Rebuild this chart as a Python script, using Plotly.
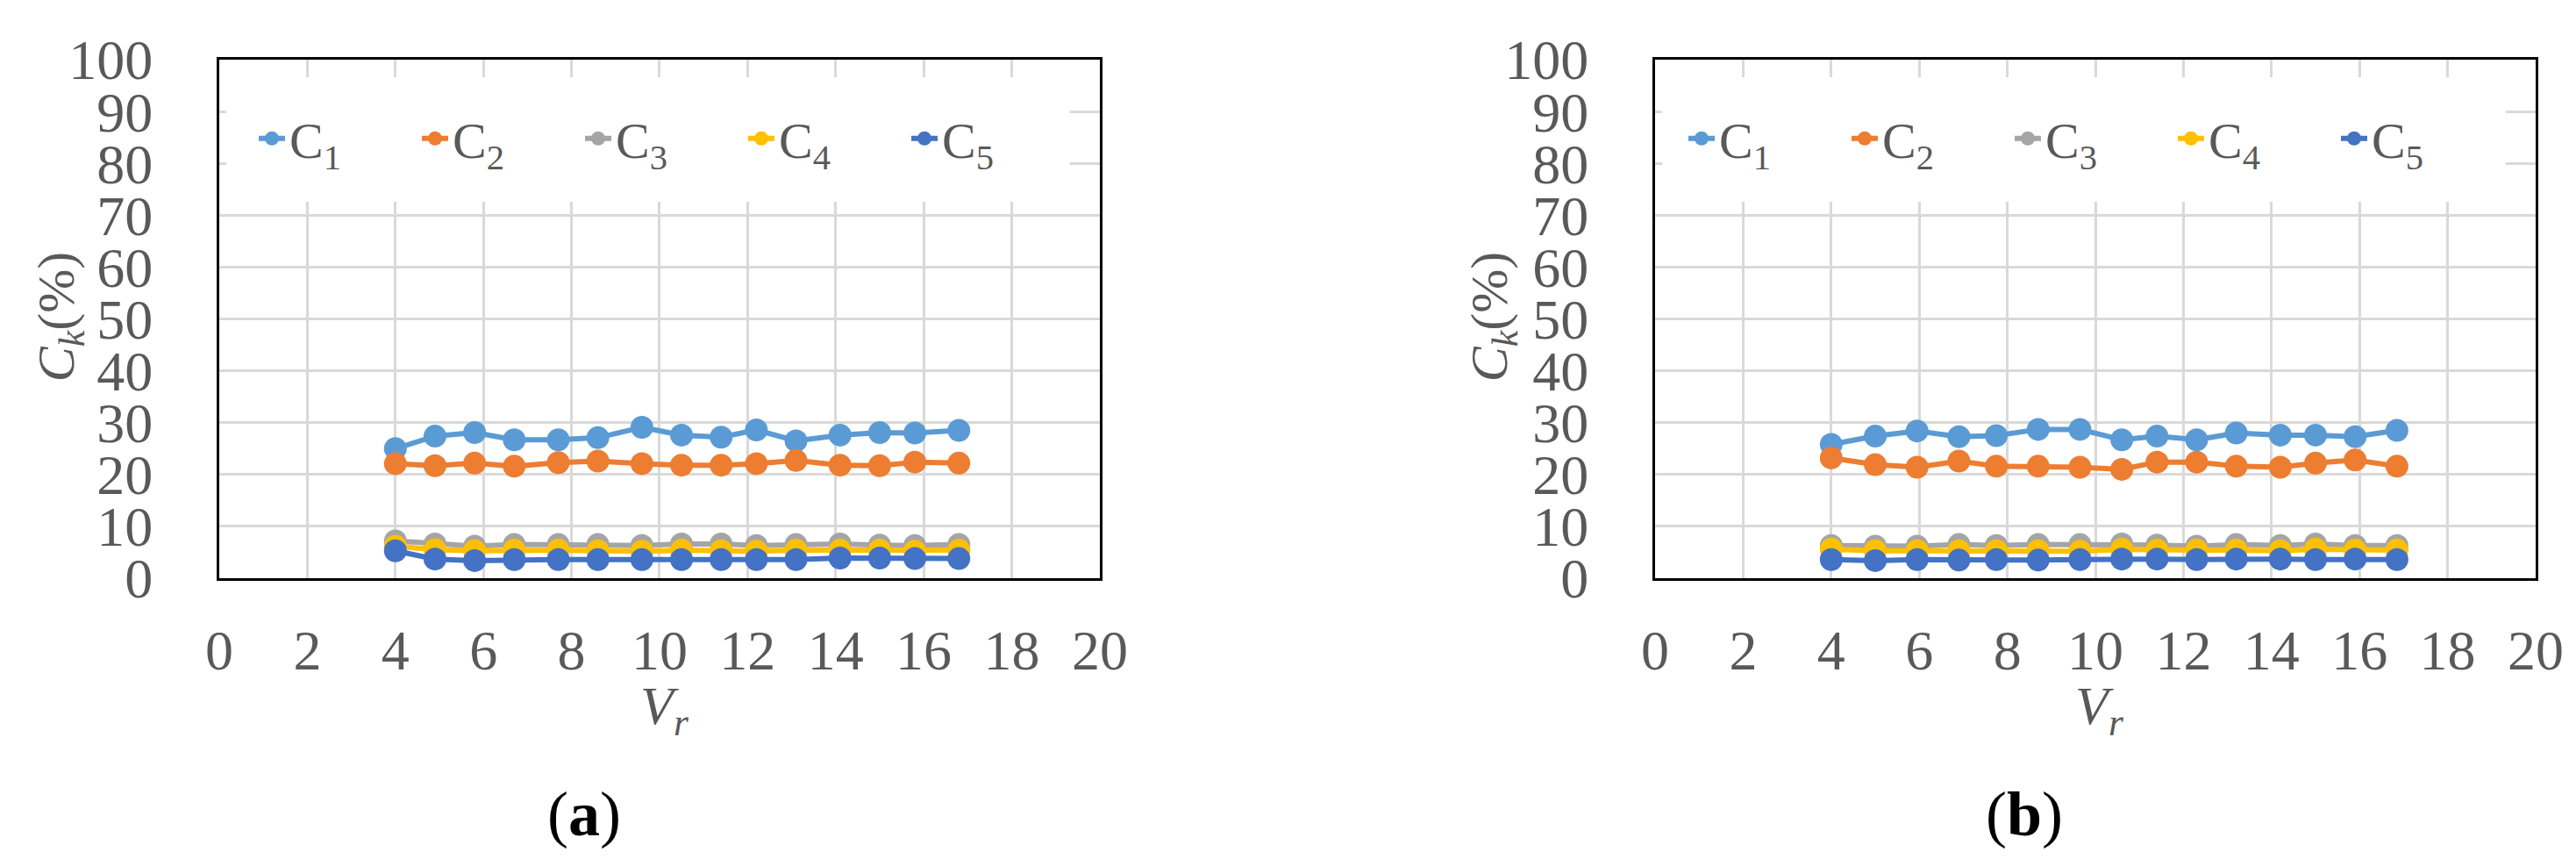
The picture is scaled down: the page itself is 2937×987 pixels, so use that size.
import plotly.graph_objects as go

# panel (a)
vr_a = [4.0, 4.9, 5.8, 6.7, 7.7, 8.6, 9.6, 10.5, 11.4, 12.2, 13.1, 14.1, 15.0, 15.8, 16.8]
c1_a = [25.0, 27.4, 28.1, 26.7, 26.7, 27.1, 29.1, 27.6, 27.2, 28.6, 26.5, 27.6, 28.1, 28.0, 28.5]
c2_a = [22.1, 21.7, 22.2, 21.6, 22.3, 22.6, 22.1, 21.8, 21.8, 22.1, 22.7, 21.8, 21.7, 22.4, 22.2]
c3_a = [7.2, 6.6, 6.2, 6.5, 6.5, 6.5, 6.3, 6.6, 6.6, 6.3, 6.5, 6.6, 6.4, 6.3, 6.5]
c4_a = [6.2, 5.5, 5.3, 5.4, 5.4, 5.3, 5.2, 5.4, 5.3, 5.2, 5.4, 5.4, 5.4, 5.2, 5.4]
c5_a = [5.3, 3.7, 3.4, 3.6, 3.6, 3.6, 3.6, 3.6, 3.6, 3.6, 3.6, 3.9, 3.9, 3.8, 3.8]

# panel (b)
vr_b = [4.0, 5.0, 5.95, 6.9, 7.75, 8.7, 9.65, 10.6, 11.4, 12.3, 13.2, 14.2, 15.0, 15.9, 16.85]
c1_b = [25.8, 27.4, 28.4, 27.3, 27.5, 28.7, 28.7, 26.7, 27.4, 26.7, 28.0, 27.6, 27.6, 27.3, 28.5]
c2_b = [23.2, 21.9, 21.4, 22.6, 21.6, 21.6, 21.4, 21.0, 22.4, 22.4, 21.6, 21.4, 22.2, 22.8, 21.6]
c3_b = [6.3, 6.2, 6.2, 6.5, 6.3, 6.5, 6.5, 6.6, 6.4, 6.2, 6.5, 6.3, 6.6, 6.3, 6.3]
c4_b = [5.6, 5.3, 5.3, 5.3, 5.3, 5.3, 5.2, 5.6, 5.4, 5.4, 5.4, 5.3, 5.6, 5.4, 5.4]
c5_b = [3.6, 3.4, 3.6, 3.5, 3.6, 3.5, 3.6, 3.7, 3.7, 3.6, 3.7, 3.7, 3.6, 3.7, 3.6]

names = ['C<sub>1</sub>', 'C<sub>2</sub>', 'C<sub>3</sub>', 'C<sub>4</sub>', 'C<sub>5</sub>']
colors = ['#5B9BD5', '#ED7D31', '#A5A5A5', '#FFC000', '#4472C4']

FONT = 'Liberation Serif'
GREY = '#595959'

fig = go.Figure()

panels = [
    (vr_a, [c1_a, c2_a, c3_a, c4_a, c5_a], 'x', 'y', 'legend'),
    (vr_b, [c1_b, c2_b, c3_b, c4_b, c5_b], 'x2', 'y2', 'legend2'),
]
for vr, series, xa, ya, leg in panels:
    for name, col, vals in zip(names, colors, series):
        fig.add_trace(go.Scatter(x=vr, y=vals, name=name, mode='lines+markers',
                                 xaxis=xa, yaxis=ya, legend=leg,
                                 line=dict(color=col, width=6),
                                 marker=dict(color=col, size=26)))

ydom = [0.3404, 0.9392]
xdoms = [[0.0824, 0.4242], [0.6398, 0.9816]]

axis_common = dict(showline=True, mirror=True, linecolor='black', linewidth=3,
                   showgrid=True, gridcolor='#D9D9D9', gridwidth=3,
                   zeroline=False, ticks='', automargin=False,
                   tickfont=dict(family=FONT, size=64, color=GREY))

fig.update_layout(
    width=2937, height=987, autosize=False,
    margin=dict(l=0, r=0, t=0, b=0, autoexpand=False),
    paper_bgcolor='white', plot_bgcolor='white',
    xaxis=dict(domain=xdoms[0], anchor='y', range=[0, 20], dtick=2, tick0=0,
               ticklabelstandoff=24, **axis_common),
    yaxis=dict(domain=ydom, anchor='x', range=[0, 100], dtick=10, tick0=0,
               ticklabelstandoff=60, **axis_common),
    xaxis2=dict(domain=xdoms[1], anchor='y2', range=[0, 20], dtick=2, tick0=0,
                ticklabelstandoff=24, **axis_common),
    yaxis2=dict(domain=ydom, anchor='x2', range=[0, 100], dtick=10, tick0=0,
                ticklabelstandoff=60, **axis_common),
)

leg_common = dict(orientation='h', bgcolor='rgba(0,0,0,0)', borderwidth=0,
                  font=dict(family=FONT, size=58, color=GREY),
                  entrywidth=141, entrywidthmode='pixels',
                  xanchor='left', yanchor='middle', y=0.848)
fig.update_layout(legend=dict(x=282 / 2937, **leg_common),
                  legend2=dict(x=1912 / 2937, **leg_common))

# white block behind the legend, hiding the gridlines as in the original
for xr, yr in [('x', 'y'), ('x2', 'y2')]:
    fig.add_shape(type='rect', xref=xr, yref=yr, x0=0.16, x1=19.32, y0=72.6, y1=96.6,
                  fillcolor='white', line_width=0, layer='between')

anns = []
for cx_title, cx_v, cx_lab, lab in [(60, 750, 658, 'a'), (1694, 2386, 2300, 'b')]:
    anns.append(dict(x=cx_title / 2937, y=0.642, xref='paper', yref='paper',
                     xanchor='center', yanchor='middle',
                     text='<i>C<sub>k</sub></i>(%)', textangle=-90, showarrow=False,
                     font=dict(family=FONT, size=60, color=GREY)))
    anns.append(dict(x=cx_v / 2937, y=0.189, xref='paper', yref='paper',
                     xanchor='center', yanchor='middle',
                     text='<i>V<sub>r</sub></i>', showarrow=False,
                     font=dict(family=FONT, size=62, color=GREY)))
    anns.append(dict(x=cx_lab / 2937, y=0.068, xref='paper', yref='paper',
                     xanchor='center', yanchor='middle',
                     text='(<b>' + lab + '</b>)', showarrow=False,
                     font=dict(family=FONT, size=72, color='black')))
fig.update_layout(annotations=anns)

fig.write_html('out.html')
